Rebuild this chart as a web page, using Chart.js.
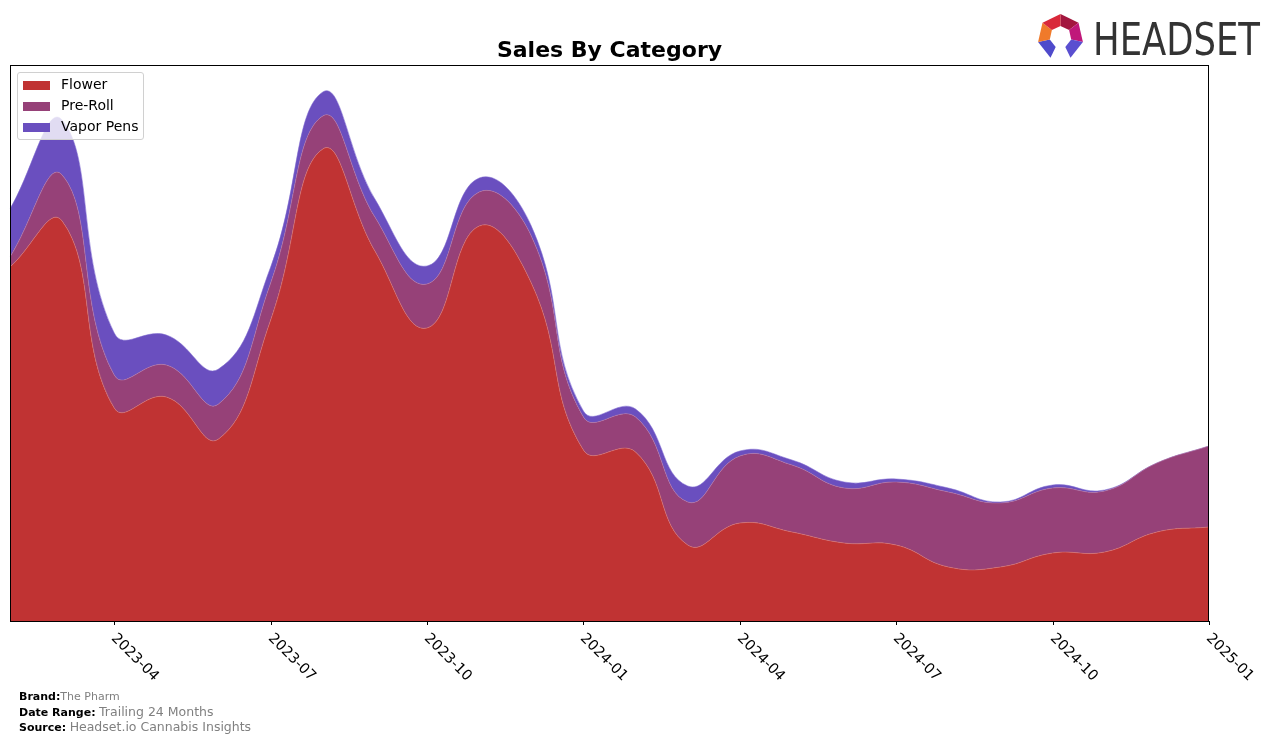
<!DOCTYPE html>
<html>
<head>
<meta charset="utf-8">
<script src="https://cdn.jsdelivr.net/npm/chart.js"></script>
<style>
  body { margin: 0; background: #fff; font-family: "DejaVu Sans", sans-serif; }
  #wrap { position: relative; width: 1276px; height: 741px; }
  #chart { position: absolute; left: 0; top: 0; }
  #title { position: absolute; left: 10px; width: 1199px; top: 37px; text-align: center;
           font-weight: bold; font-size: 22px; color: #000; }
  #legend { position: absolute; left: 17px; top: 72px; width: 125px; height: 66px;
            background: rgba(255,255,255,0.8); border: 1px solid #d0d0d0; border-radius: 3px; }
  .item { position: absolute; left: 5px; height: 14px; font-size: 14px; color: #000; }
  .item span { position: absolute; left: 0; top: 3px; width: 27px; height: 9px; }
  .item b { position: absolute; left: 38px; top: -2px; font-weight: normal; white-space: nowrap; }
  #footer { position: absolute; left: 19px; top: 690px; font-size: 11px; line-height: 14.5px; color: #000; }
  #footer b { font-weight: bold; }
  #footer .v { color: #808080; }
  #footer .big { font-size: 12.5px; }
  #logo { position: absolute; left: 1036px; top: 12px; }
</style>
</head>
<body>
<div id="wrap">
  <canvas id="chart" width="1276" height="741"></canvas>
  <div id="title">Sales By Category</div>
  <div id="legend">
    <div class="item" style="top:5px"><span style="background:#c03333"></span><b>Flower</b></div>
    <div class="item" style="top:26px"><span style="background:#964178"></span><b>Pre-Roll</b></div>
    <div class="item" style="top:47px"><span style="background:#6a4fbf"></span><b>Vapor Pens</b></div>
  </div>
  <div id="footer">
    <div><b>Brand:</b><span class="v">The Pharm</span></div>
    <div><b>Date Range:</b> <span class="v big">Trailing 24 Months</span></div>
    <div><b>Source:</b> <span class="v big">Headset.io Cannabis Insights</span></div>
  </div>
  <svg id="logo" width="230" height="50" viewBox="0 0 230 50">
    <g id="ring"></g>
    <text x="57" y="43" font-family="Liberation Sans Narrow, DejaVu Sans Condensed, sans-serif" font-size="45"
          fill="#333333" textLength="167" lengthAdjust="spacingAndGlyphs">HEADSET</text>
  </svg>
</div>
<script>
const months = ['2023-02', '2023-03', '2023-04', '2023-05', '2023-06', '2023-07', '2023-08', '2023-09',
    '2023-10', '2023-11', '2023-12', '2024-01', '2024-02', '2024-03', '2024-04', '2024-05', '2024-06',
    '2024-07', '2024-08', '2024-09', '2024-10', '2024-11', '2024-12', '2025-01'];

const tickLabels = ['2023-04', '2023-07', '2023-10', '2024-01', '2024-04', '2024-07', '2024-10', '2025-01'];

const flower = [354, 400, 213, 224, 182, 301, 472, 370, 293, 395, 338, 171, 169, 76, 98, 89, 78, 76, 54, 54, 68, 69, 89, 94];
const preRoll = [10, 46, 33, 32, 35, 37, 33, 34, 44, 34, 47, 33, 35, 43, 67, 67, 55, 63, 75, 64, 65, 61, 69, 81];
const vaporPens = [48, 55, 42, 30, 35, 16, 24, 18, 18, 14, 10, 6, 8, 16, 5, 5, 6, 3, 4, 1, 3, 1, 0, 0];

const yMax = 556;

// logo ring: heptagon with the bottom side left open
const ringColors = ['#a3173f', '#c0187a', '#5a4fd0', null, '#4f4acb', '#f07a2a', '#d9283a'];
const ring = document.getElementById('ring');
const cx = 24.5, cy = 25, rOut = 23, rIn = 11;
for (let k = 0; k < 7; k++) {
    if (!ringColors[k]) continue;
    const a1 = k * 2 * Math.PI / 7, a2 = (k + 1) * 2 * Math.PI / 7;
    const p = (r, a) => `${(cx + r * Math.sin(a)).toFixed(1)},${(cy - r * Math.cos(a)).toFixed(1)}`;
    const poly = document.createElementNS('http://www.w3.org/2000/svg', 'polygon');
    poly.setAttribute('points', [p(rOut, a1), p(rOut, a2), p(rIn, a2), p(rIn, a1)].join(' '));
    poly.setAttribute('fill', ringColors[k]);
    ring.appendChild(poly);
}

// frame, tick marks and rotated labels the matplotlib way
const axisPlugin = {
    id: 'axisPlugin',
    afterDraw(chart) {
        const ctx = chart.ctx;
        const area = chart.chartArea;
        const xScale = chart.scales.x;
        ctx.save();
        ctx.strokeStyle = '#000';
        ctx.lineWidth = 1;
        ctx.strokeRect(area.left + 0.5, area.top + 0.5, area.right - area.left - 1, area.bottom - area.top);
        ctx.fillStyle = '#000';
        ctx.font = '14.5px "DejaVu Sans"';
        ctx.textAlign = 'left';
        ctx.textBaseline = 'top';
        tickLabels.forEach(label => {
            const x = Math.round(xScale.getPixelForValue(months.indexOf(label))) + 0.5;
            ctx.beginPath();
            ctx.moveTo(x, area.bottom);
            ctx.lineTo(x, area.bottom + 4);
            ctx.stroke();
            ctx.save();
            ctx.translate(x + 4, area.bottom + 10);
            ctx.rotate(Math.PI / 4);
            ctx.fillText(label, 0, 0);
            ctx.restore();
        });
        ctx.restore();
    }
};

const data = {
    labels: months,
    datasets: [
        {
            label: 'Flower',
            data: flower,
            backgroundColor: '#c03333',
            borderColor: 'rgba(215,120,120,0.7)',
            fill: 'origin'
        },
        {
            label: 'Pre-Roll',
            data: preRoll,
            backgroundColor: '#964178',
            borderColor: 'rgba(180,120,170,0.7)',
            fill: '-1'
        },
        {
            label: 'Vapor Pens',
            data: vaporPens,
            backgroundColor: '#6a4fbf',
            borderColor: 'rgba(130,110,210,0.7)',
            fill: '-1'
        }
    ]
};

new Chart(document.getElementById('chart'), {
    type: 'line',
    data: data,
    options: {
        responsive: false,
        animation: false,
        layout: { padding: { left: 10, right: 67, top: 65, bottom: 120 } },
        elements: {
            line: { tension: 0.45, borderWidth: 0.8 },
            point: { radius: 0, hoverRadius: 0 }
        },
        scales: {
            x: { display: false, offset: false },
            y: { display: false, stacked: true, min: 0, max: yMax }
        },
        plugins: {
            legend: { display: false },
            tooltip: { enabled: false }
        }
    },
    plugins: [axisPlugin]
});
</script>
</body>
</html>
